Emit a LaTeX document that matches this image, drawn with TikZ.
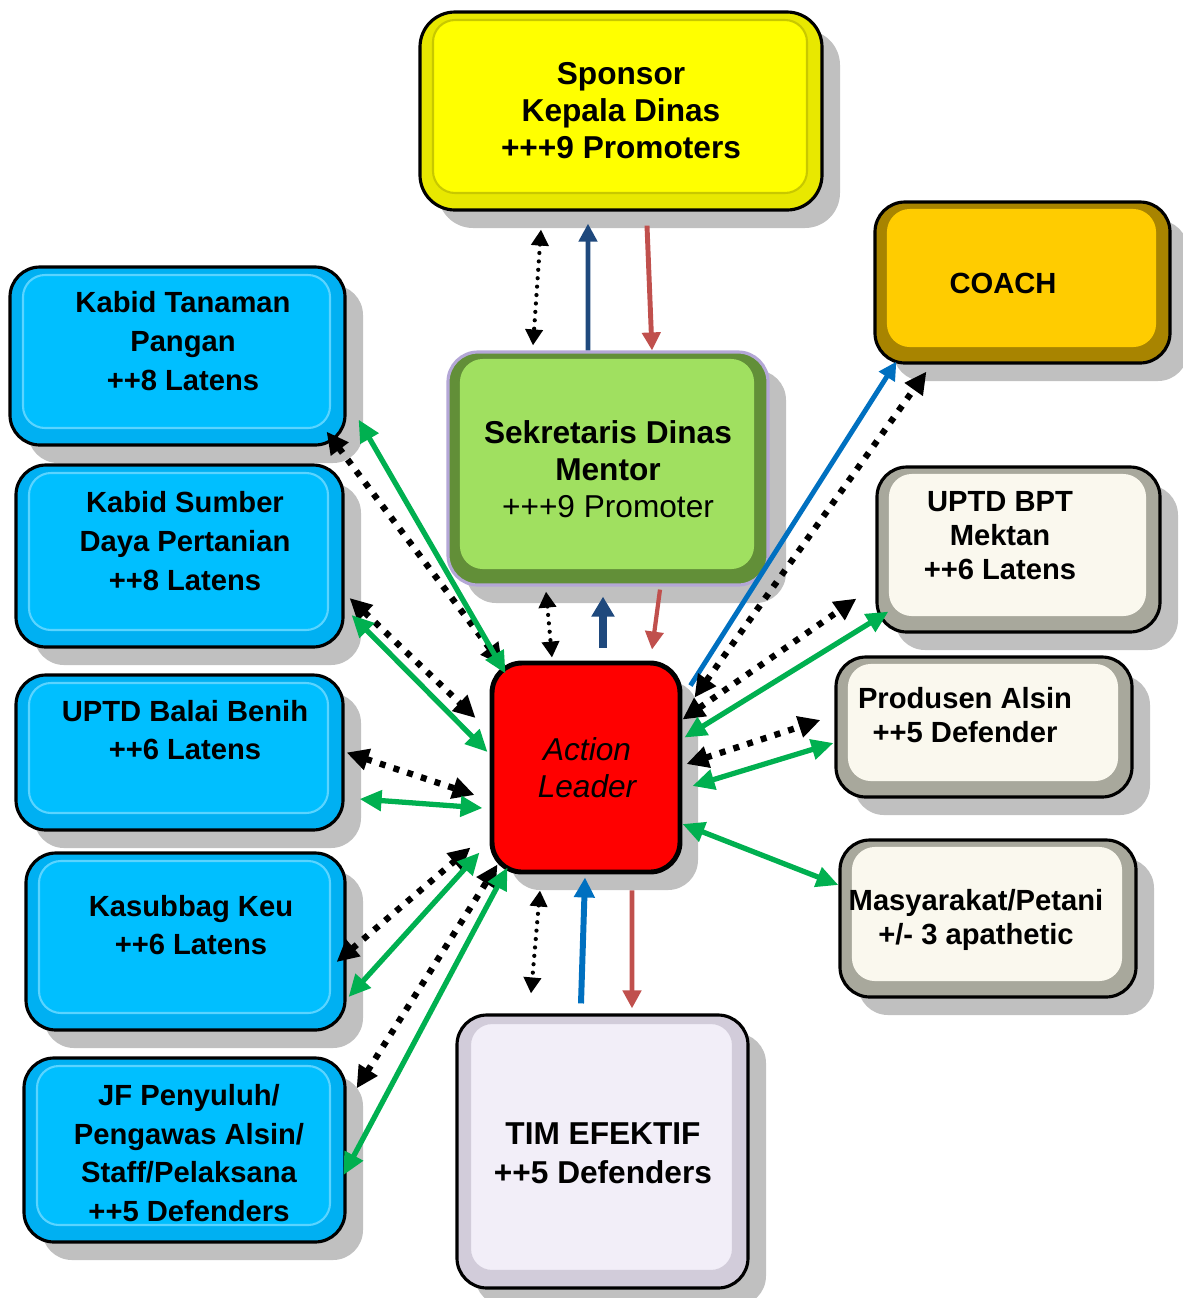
\documentclass[tikz,border=0pt]{standalone}
\usepackage{fontspec}
\setmainfont{Liberation Sans}
\usetikzlibrary{arrows.meta}
\usetikzlibrary{shadows}

\definecolor{shadegray}{HTML}{C0C0C0}
\definecolor{skyface}{HTML}{00BFFF}
\definecolor{skyedge}{HTML}{00B0F2}
\definecolor{skyline}{HTML}{5AD4FF}
\definecolor{sunface}{HTML}{FFFF00}
\definecolor{sunedge}{HTML}{E8E800}
\definecolor{sunline}{HTML}{C8C800}
\definecolor{goldface}{HTML}{FFCC00}
\definecolor{goldedge}{HTML}{A88400}
\definecolor{leafface}{HTML}{A0E060}
\definecolor{leafedge}{HTML}{628F38}
\definecolor{lilac}{HTML}{B4A7D6}
\definecolor{creamface}{HTML}{FAF8EE}
\definecolor{creamedge}{HTML}{A8A89C}
\definecolor{mistface}{HTML}{F2EEF8}
\definecolor{mistedge}{HTML}{D2CCDA}
\definecolor{linkgreen}{HTML}{00B050}
\definecolor{navy}{HTML}{1F497D}
\definecolor{ocean}{HTML}{0070C0}
\definecolor{brick}{HTML}{C0504D}

\tikzset{
  box/.style={draw=black, line width=0.9pt, rounded corners=0.3cm, inner sep=0pt,
    drop shadow={shadow xshift=0.18cm, shadow yshift=-0.18cm, fill=shadegray, opacity=1}},
  face/.style n args={3}{fill=#1, path picture={
      \draw[fill=#2, draw=#3, line width=0.6pt, rounded corners=0.22cm]
        ([shift={(0.13cm,0.17cm)}]path picture bounding box.south west) rectangle
        ([shift={(-0.15cm,-0.08cm)}]path picture bounding box.north east);}},
  txt/.style={align=center, font=\bfseries\fontsize{8.3}{11}\selectfont},
  bigtxt/.style={align=center, font=\bfseries\fontsize{9}{10.5}\selectfont},
  link/.style={draw=linkgreen, line width=1.5pt, >={Triangle[length=0.22cm,width=0.2cm]}, <->},
  dots/.style={line width=1.8pt, dash pattern=on 1.7pt off 2.4pt,
    >={Triangle[length=0.22cm,width=0.21cm]}, <->},
  fine dots/.style={line width=1.2pt, line cap=round, dash pattern=on 0pt off 2.4pt,
    >={Triangle[length=0.16cm,width=0.17cm]}, <->},
  up/.style={line width=1.4pt, >={Triangle[length=0.18cm,width=0.18cm]}, ->},
}

\begin{document}
\begin{tikzpicture}
  \useasboundingbox (0,0) rectangle (11.82,-12.98);

  % boxes
  \node (sponsor) [box, rounded corners=0.35cm, face={sunedge}{sunface}{sunline},
    minimum width=4.02cm, minimum height=1.98cm] at (6.21,-1.11) {};
  \node (coach) [box, face={goldedge}{goldface}{goldface}, minimum width=2.95cm,
    minimum height=1.61cm] at (10.225,-2.825) {};
  \node (sekr) [box, draw=lilac, face={leafedge}{leafface}{leafface}, minimum width=3.2cm,
    minimum height=2.33cm] at (6.08,-4.685) {};
  \node (tanaman) [box, face={skyedge}{skyface}{skyline}, minimum width=3.35cm,
    minimum height=1.78cm] at (1.775,-3.56) {};
  \node (sumber) [box, face={skyedge}{skyface}{skyline}, minimum width=3.27cm,
    minimum height=1.82cm] at (1.795,-5.56) {};
  \node (benih) [box, face={skyedge}{skyface}{skyline}, minimum width=3.27cm,
    minimum height=1.55cm] at (1.795,-7.525) {};
  \node (keu) [box, face={skyedge}{skyface}{skyline}, minimum width=3.19cm,
    minimum height=1.77cm] at (1.855,-9.415) {};
  \node (jf) [box, face={skyedge}{skyface}{skyline}, minimum width=3.21cm,
    minimum height=1.84cm] at (1.845,-11.5) {};
  \node (action) [box, line width=1.4pt, fill=red, minimum width=1.88cm,
    minimum height=2.09cm] at (5.86,-7.675) {};
  \node (bpt) [box, face={creamedge}{creamface}{creamface}, minimum width=2.83cm,
    minimum height=1.65cm] at (10.185,-5.495) {};
  \node (prod) [box, face={creamedge}{creamface}{creamface}, minimum width=2.96cm,
    minimum height=1.4cm] at (9.84,-7.27) {};
  \node (masy) [box, face={creamedge}{creamface}{creamface}, minimum width=2.96cm,
    minimum height=1.57cm] at (9.88,-9.185) {};
  \node (tim) [box, face={mistedge}{mistface}{mistedge}, minimum width=2.91cm,
    minimum height=2.73cm] at (6.025,-11.515) {};

  % texts
  \node (sponsortxt) [bigtxt] at (6.21,-1.11) {Sponsor\\Kepala Dinas\\+++9 Promoters};
  \node (coachtxt) [txt] at (10.03,-2.83) {COACH};
  \node (sekrtxt) [bigtxt] at (6.08,-4.69) {Sekretaris Dinas\\Mentor\\\mdseries +++9 Promoter};
  \node (tanamantxt) [txt] at (1.83,-3.41) {Kabid Tanaman\\Pangan\\++8 Latens};
  \node (sumbertxt) [txt] at (1.85,-5.41) {Kabid Sumber\\Daya Pertanian\\++8 Latens};
  \node (benihtxt) [txt] at (1.85,-7.30) {UPTD Balai Benih\\++6 Latens};
  \node (keutxt) [txt] at (1.91,-9.25) {Kasubbag Keu\\++6 Latens};
  \node (jftxt) [txt] at (1.89,-11.53) {JF Penyuluh/\\Pengawas Alsin/\\Staff/Pelaksana\\++5 Defenders};
  \node (actiontxt) [align=center, font=\itshape\fontsize{9}{10.5}\selectfont] at (5.87,-7.68) {Action\\Leader};
  \node (bpttxt) [txt, font=\bfseries\fontsize{8.3}{9.7}\selectfont] at (10.0,-5.36) {UPTD BPT\\Mektan\\++6 Latens};
  \node (prodtxt) [txt, font=\bfseries\fontsize{8.3}{9.7}\selectfont] at (9.65,-7.15) {Produsen Alsin\\++5 Defender};
  \node (masytxt) [txt, font=\bfseries\fontsize{8.3}{9.7}\selectfont] at (9.76,-9.20) {Masyarakat/Petani\\+/- 3 apathetic};
  \node (timtxt) [txt, font=\bfseries\fontsize{9}{11}\selectfont] at (6.03,-11.53) {TIM EFEKTIF\\++5 Defenders};

  % sponsor - mentor - action leader - tim
  \draw [fine dots] ([xshift=-0.8cm, yshift=-0.18cm]sponsor.south) -- ([xshift=-0.75cm, yshift=0.05cm]sekr.north);
  \draw [up, navy] ([xshift=-0.2cm]sekr.north) -- ([xshift=-0.33cm, yshift=-0.12cm]sponsor.south);
  \draw [up, brick] ([xshift=0.26cm, yshift=-0.14cm]sponsor.south) -- ([xshift=0.44cm]sekr.north);
  \draw [fine dots] ([xshift=-0.62cm, yshift=-0.05cm]sekr.south) -- ([xshift=-0.34cm, yshift=0.03cm]action.north);
  \draw [up, navy, line width=2.4pt, >={Triangle[length=0.2cm,width=0.22cm]}] ([xshift=0.17cm, yshift=0.13cm]action.north) -- ([xshift=-0.05cm, yshift=-0.1cm]sekr.south);
  \draw [up, brick, line width=1.2pt] ([xshift=0.52cm, yshift=-0.03cm]sekr.south) -- ([xshift=0.66cm, yshift=0.11cm]action.north);
  \draw [fine dots] ([xshift=-0.46cm, yshift=-0.16cm]action.south) -- ([xshift=-0.715cm, yshift=0.2cm]tim.north);
  \draw [up, ocean, line width=1.7pt, >={Triangle[length=0.2cm,width=0.2cm]}] ([xshift=-0.215cm, yshift=0.1cm]tim.north) -- ([xshift=-0.01cm, yshift=-0.03cm]action.south);
  \draw [up, brick] ([xshift=0.46cm, yshift=-0.16cm]action.south) -- ([xshift=0.295cm, yshift=0.05cm]tim.north);

  % right side
  \draw [up, ocean, line width=1.4pt] ([xshift=0.08cm, yshift=-0.25cm]action.north east) -- ([xshift=0.23cm, yshift=0.03cm]coach.south west);
  \draw [dots] ([xshift=0.12cm, yshift=-0.37cm]action.north east) -- ([xshift=0.53cm, yshift=-0.07cm]coach.south west);
  \draw [dots] ([yshift=-0.59cm]action.north east) -- ([xshift=-0.19cm, yshift=0.35cm]bpt.south west);
  \draw [link] ([xshift=0.02cm, yshift=-0.77cm]action.north east) -- ([xshift=0.13cm, yshift=0.22cm]bpt.south west);
  \draw [dots] ([xshift=0.04cm, yshift=0.035cm]action.east) -- ([xshift=-0.14cm, yshift=0.07cm]prod.west);
  \draw [link] ([xshift=0.1cm, yshift=-0.185cm]action.east) -- ([xshift=-0.01cm, yshift=-0.16cm]prod.west);
  \draw [link] ([yshift=-0.565cm]action.east) -- ([yshift=0.335cm]masy.west);

  % left side
  \draw [dots] ([xshift=-0.2cm, yshift=0.15cm]tanaman.south east) -- ([xshift=0.13cm, yshift=-0.05cm]action.north west);
  \draw [link] ([xshift=0.12cm, yshift=0.27cm]tanaman.south east) -- ([xshift=0.16cm, yshift=-0.13cm]action.north west);
  \draw [dots] ([xshift=0.05cm, yshift=-0.42cm]sumber.east) -- ([xshift=-0.14cm, yshift=0.495cm]action.west);
  \draw [link] ([xshift=0.07cm, yshift=-0.59cm]sumber.east) -- ([xshift=-0.02cm, yshift=0.155cm]action.west);
  \draw [dots] ([xshift=0.02cm]benih.east) -- ([xshift=-0.15cm, yshift=-0.275cm]action.west);
  \draw [link] ([xshift=0.15cm, yshift=-0.465cm]benih.east) -- ([xshift=-0.07cm, yshift=-0.405cm]action.west);
  \draw [dots] ([xshift=-0.1cm, yshift=-0.205cm]keu.east) -- ([xshift=-0.19cm, yshift=0.27cm]action.south west);
  \draw [link] ([xshift=0.02cm, yshift=-0.555cm]keu.east) -- ([xshift=-0.1cm, yshift=0.22cm]action.south west);
  \draw [dots] ([xshift=0.1cm, yshift=-0.32cm]jf.north east) -- ([xshift=0.08cm, yshift=0.1cm]action.south west);
  \draw [link] ([xshift=-0.03cm, yshift=-0.25cm]jf.east) -- ([xshift=0.18cm, yshift=0.07cm]action.south west);
\end{tikzpicture}
\end{document}
